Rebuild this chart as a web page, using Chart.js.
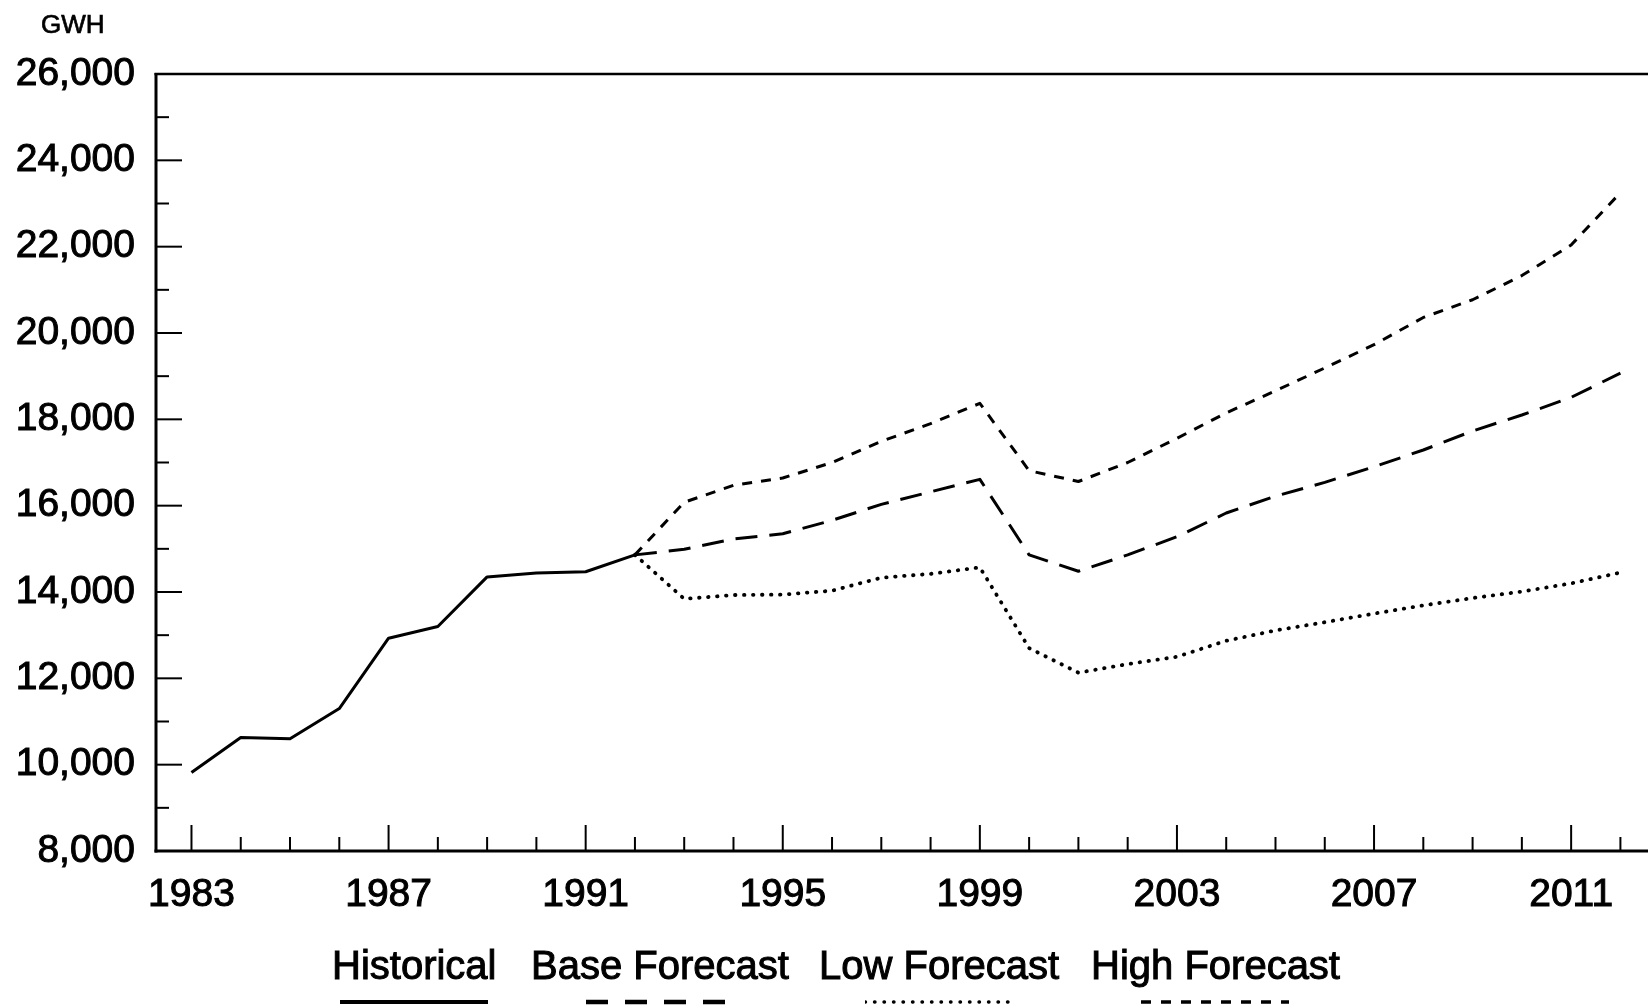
<!DOCTYPE html>
<html><head><meta charset="utf-8">
<script src="https://cdn.jsdelivr.net/npm/chart.js@4.4.1/dist/chart.umd.min.js"></script>
<style>
html,body{margin:0;padding:0;background:#fff;}
#wrap{position:relative;width:1648px;height:1006px;overflow:hidden;background:#fff;}
#c{position:absolute;left:0;top:0;}
#unit{position:absolute;left:41px;top:11px;font:26px/26px "Liberation Sans",Arial,sans-serif;color:#000;-webkit-text-stroke:0.7px #000;}
.item{position:absolute;top:945px;display:flex;flex-direction:column;align-items:center;font:40px/40px "Liberation Sans",Arial,sans-serif;color:#000;-webkit-text-stroke:1px #000;white-space:nowrap;}
.item svg{margin-top:14px;display:block;}
</style></head>
<body><div id="wrap"><canvas id="c" width="1648" height="1006"></canvas><div id="unit">GWH</div><div id="legend"></div></div>
<script>
// ---- data ----
const histYears = [1983,1984,1985,1986,1987,1988,1989,1990,1991,1992];
const histValues = [9820,10630,10600,11300,12930,13200,14350,14440,14470,14860];
const forecastYears = [1992,1993,1994,1995,1996,1997,1998,1999,2000,2001,2002,2003,2004,2005,2006,2007,2008,2009,2010,2011,2012];
const baseValues = [14860,14990,15230,15350,15660,16030,16320,16610,14860,14480,14860,15280,15830,16220,16540,16900,17290,17730,18100,18510,19070];
const lowValues  = [14860,13840,13930,13940,14030,14330,14420,14570,12700,12130,12330,12500,12870,13110,13300,13500,13690,13860,14010,14200,14450];
const highValues = [14860,16080,16470,16640,17000,17490,17900,18370,16810,16560,17000,17560,18150,18660,19190,19730,20360,20770,21330,22040,23250];
const seriesNames = ['Historical','Base Forecast','Low Forecast','High Forecast'];
const allYears = [];
for (let yr = 1983; yr <= 2012; yr++) allYears.push(yr);
const labeledYears = [1983,1987,1991,1995,1999,2003,2007,2011];
const yMin = 8000, yMax = 26000, yStep = 1000, yLabelStep = 2000;
const unitLabel = 'GWH';

// ---- styles ----
const lineStyles = [
  {dash: [], cap: 'butt', width: 3},
  {dash: [22, 12], cap: 'butt', width: 3},
  {dash: [0.5, 8.5], cap: 'round', width: 3.8},
  {dash: [10, 9], cap: 'butt', width: 3}
];
const legendSamples = [
  {dash: '', width: 4, cap: 'butt'},
  {dash: '22 17', width: 4.5, cap: 'butt'},
  {dash: '0.5 9', width: 3.4, cap: 'round'},
  {dash: '10 10', width: 3.5, cap: 'butt'}
];
const legendLeft = [332, 531, 819, 1091];
const tickFont = {family: '"Liberation Sans", Arial, sans-serif', size: 39};

const toXY = (xs, ys) => xs.map((x, i) => ({x, y: ys[i]}));
const seriesData = [
  toXY(histYears, histValues),
  toXY(forecastYears, baseValues),
  toXY(forecastYears, lowValues),
  toXY(forecastYears, highValues)
];

const datasets = seriesNames.map((name, i) => ({
  label: name,
  data: seriesData[i],
  borderColor: '#000',
  backgroundColor: '#000',
  borderWidth: lineStyles[i].width,
  borderDash: lineStyles[i].dash,
  borderCapStyle: lineStyles[i].cap,
  borderJoinStyle: 'round',
  pointRadius: 0,
  tension: 0,
  fill: false
}));

const axesPlugin = {
  id: 'axesPlugin',
  afterDatasetsDraw(chart) {
    const {ctx, chartArea: a, scales: {x, y}} = chart;
    ctx.save();
    ctx.strokeStyle = '#000';
    ctx.lineCap = 'butt';
    const line = (x1, y1, x2, y2, w) => { ctx.lineWidth = w; ctx.beginPath(); ctx.moveTo(x1, y1); ctx.lineTo(x2, y2); ctx.stroke(); };
    x.ticks.forEach(t => {
      const px = x.getPixelForValue(t.value);
      const len = labeledYears.includes(t.value) ? 26 : 14;
      line(px, a.bottom, px, a.bottom - len, 2);
    });
    y.ticks.forEach(t => {
      const py = y.getPixelForValue(t.value);
      const len = (t.value % yLabelStep === 0) ? 26 : 13;
      line(a.left, py, a.left + len, py, 2);
    });
    line(a.left, a.top - 1, a.left, a.bottom + 1.5, 3);
    line(a.left - 1.5, a.bottom, a.right, a.bottom, 3.2);
    line(a.left - 1.5, a.top, a.right, a.top, 2.6);
    ctx.restore();
  }
};

const chart = new Chart(document.getElementById('c'), {
  type: 'line',
  data: {datasets},
  options: {
    responsive: false,
    animation: false,
    layout: {padding: {top: 74, right: 0, left: 0, bottom: 0}},
    plugins: {legend: {display: false}, tooltip: {enabled: false}},
    scales: {
      x: {
        type: 'linear',
        min: 1982.28,
        max: 2012.56,
        afterBuildTicks: s => { s.ticks = allYears.map(v => ({value: v})); },
        afterFit: s => { s.height = 155; },
        grid: {display: false, drawTicks: false},
        border: {display: false},
        ticks: {
          autoSkip: false, maxRotation: 0, padding: 21, color: '#000',
          font: tickFont, textStrokeWidth: 1, textStrokeColor: '#000',
          callback: v => labeledYears.includes(v) ? String(v) : ''
        }
      },
      y: {
        min: yMin, max: yMax,
        afterFit: s => { s.width = 156; },
        grid: {display: false, drawTicks: false},
        border: {display: false},
        ticks: {
          stepSize: yStep, autoSkip: false, padding: 21, color: '#000',
          font: tickFont, textStrokeWidth: 1, textStrokeColor: '#000',
          callback: v => (v % yLabelStep === 0) ? v.toLocaleString('en-US') : ''
        }
      }
    }
  },
  plugins: [axesPlugin]
});

document.getElementById('unit').textContent = unitLabel;
const leg = document.getElementById('legend');
seriesNames.forEach((name, i) => {
  const item = document.createElement('div');
  item.className = 'item';
  item.style.left = legendLeft[i] + 'px';
  const t = document.createElement('div');
  t.textContent = name;
  item.appendChild(t);
  const s = legendSamples[i];
  const ns = 'http://www.w3.org/2000/svg';
  const svg = document.createElementNS(ns, 'svg');
  svg.setAttribute('width', '148'); svg.setAttribute('height', '6');
  const ln = document.createElementNS(ns, 'line');
  ln.setAttribute('x1', '0'); ln.setAttribute('x2', '148');
  ln.setAttribute('y1', '3'); ln.setAttribute('y2', '3');
  ln.setAttribute('stroke', '#000'); ln.setAttribute('stroke-width', s.width);
  ln.setAttribute('stroke-linecap', s.cap);
  if (s.dash) ln.setAttribute('stroke-dasharray', s.dash);
  svg.appendChild(ln);
  item.appendChild(svg);
  leg.appendChild(item);
});
</script>
</body></html>
